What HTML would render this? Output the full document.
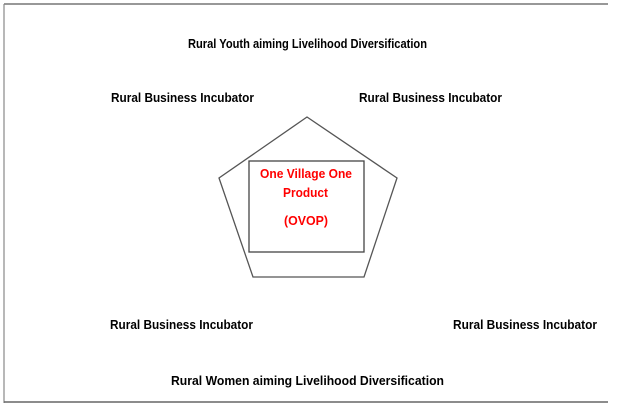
<!DOCTYPE html>
<html><head><meta charset="utf-8"><style>
html,body{margin:0;padding:0;background:#fff;}
svg{display:block;}
text{font-family:"Liberation Sans",sans-serif;font-weight:bold;font-size:12.5px;}
</style></head><body>
<svg width="639" height="411" viewBox="0 0 639 411" xmlns="http://www.w3.org/2000/svg">
<rect width="639" height="411" fill="#fff"/>
<line x1="4" y1="4" x2="608" y2="4" stroke="#777" stroke-width="1.5"/>
<line x1="4" y1="4" x2="4" y2="403" stroke="#888" stroke-width="1.2"/>
<line x1="4" y1="402" x2="608" y2="402" stroke="#666" stroke-width="1.5"/>
<polygon points="307,117 397,178 364,277 253,277 219,178" fill="none" stroke="#555" stroke-width="1.3"/>
<rect x="249" y="161" width="115" height="91" fill="none" stroke="#444" stroke-width="1.3"/>
<text x="188" y="48" textLength="239" lengthAdjust="spacingAndGlyphs">Rural Youth aiming Livelihood Diversification</text>
<text x="111" y="102" textLength="143" lengthAdjust="spacingAndGlyphs">Rural Business Incubator</text>
<text x="359" y="102" textLength="143" lengthAdjust="spacingAndGlyphs">Rural Business Incubator</text>
<text x="110" y="329" textLength="143" lengthAdjust="spacingAndGlyphs">Rural Business Incubator</text>
<text x="453" y="329" textLength="144" lengthAdjust="spacingAndGlyphs">Rural Business Incubator</text>
<text x="171" y="385" textLength="273" lengthAdjust="spacingAndGlyphs">Rural Women aiming Livelihood Diversification</text>
<g fill="#ff0000">
<text x="260" y="178" textLength="92" lengthAdjust="spacingAndGlyphs">One Village One</text>
<text x="283" y="197" textLength="45" lengthAdjust="spacingAndGlyphs">Product</text>
<text x="284" y="225" textLength="44" lengthAdjust="spacingAndGlyphs">(OVOP)</text>
</g>
</svg>
</body></html>
